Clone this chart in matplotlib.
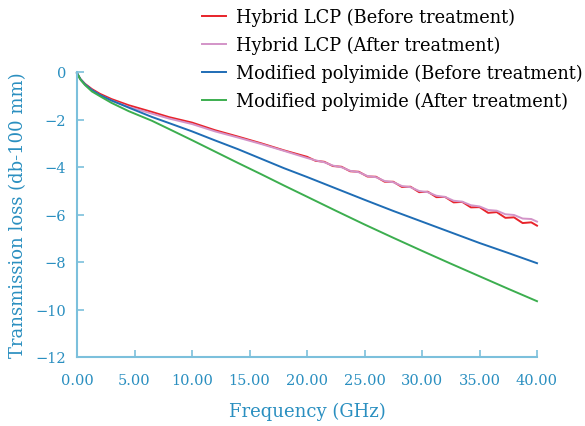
import matplotlib
matplotlib.use("Agg")
import matplotlib.pyplot as plt

# frequency points (GHz) for the smooth part of every curve
freq_base = [0, 0.3, 0.7, 1.3, 2, 3, 4.5, 6.5, 8, 10, 12, 14, 16, 18]

freq_lcp = freq_base + [20.0, 20.75, 21.5, 22.25, 23.0, 23.75, 24.5, 25.25, 26.0, 26.75,
                        27.5, 28.25, 29.0, 29.75, 30.5, 31.25, 32.0, 32.75, 33.5, 34.25,
                        35.0, 35.75, 36.5, 37.25, 38.0, 38.75, 39.5, 40.0]
lcp_before = [-0.05, -0.3, -0.5, -0.72, -0.92, -1.14, -1.4, -1.68, -1.9, -2.13, -2.45, -2.72, -3.0, -3.3,
              -3.57, -3.74, -3.78, -3.96, -3.99, -4.18, -4.20, -4.40, -4.41, -4.62,
              -4.62, -4.84, -4.83, -5.06, -5.04, -5.27, -5.26, -5.49, -5.47, -5.70,
              -5.69, -5.93, -5.90, -6.14, -6.12, -6.36, -6.33, -6.47]
lcp_after = [-0.05, -0.32, -0.54, -0.77, -0.98, -1.2, -1.47, -1.75, -1.96, -2.19, -2.5, -2.76, -3.03, -3.32,
             -3.62, -3.72, -3.80, -3.94, -4.01, -4.16, -4.22, -4.38, -4.43, -4.59,
             -4.64, -4.80, -4.85, -5.01, -5.06, -5.21, -5.26, -5.42, -5.46, -5.61,
             -5.66, -5.81, -5.84, -5.99, -6.02, -6.17, -6.19, -6.30]

# modified polyimide curves
freq_pi = freq_base + [20, 22.5, 25, 27.5, 30, 32.5, 35, 37.5, 40]
pi_before = [-0.05, -0.3, -0.52, -0.76, -0.97, -1.2, -1.5, -1.89, -2.15, -2.5, -2.88, -3.25, -3.65, -4.05,
             -4.42, -4.9, -5.38, -5.85, -6.3, -6.75, -7.2, -7.62, -8.05]
pi_after = [-0.05, -0.32, -0.55, -0.82, -1.02, -1.3, -1.65, -2.05, -2.4, -2.87, -3.35, -3.83, -4.3, -4.78,
            -5.25, -5.84, -6.42, -6.98, -7.53, -8.07, -8.6, -9.13, -9.65]

labels = ["Hybrid LCP (Before treatment)", "Hybrid LCP (After treatment)",
          "Modified polyimide (Before treatment)", "Modified polyimide (After treatment)"]
colors = ["#e8232a", "#d394c8", "#1f6db5", "#3cae4f"]

x_ticks = [0, 5, 10, 15, 20, 25, 30, 35, 40]
y_ticks = [0, -2, -4, -6, -8, -10, -12]

axis_col = "#7cc0dc"
text_col = "#2a8fc0"

plt.rcParams['font.family'] = ['DejaVu Serif']

fig = plt.figure(figsize=(5.85, 4.27), dpi=100)
ax = fig.add_axes([77 / 585, 69 / 427, 460 / 585, 285 / 427])

ax.plot(freq_lcp, lcp_before, color=colors[0], lw=1.4, label=labels[0], clip_on=False)
ax.plot(freq_lcp, lcp_after, color=colors[1], lw=1.4, label=labels[1], clip_on=False)
ax.plot(freq_pi, pi_before, color=colors[2], lw=1.4, label=labels[2], clip_on=False)
ax.plot(freq_pi, pi_after, color=colors[3], lw=1.4, label=labels[3], clip_on=False)

ax.set_xlim(0, 40)
ax.set_ylim(-12, 0)
ax.set_xticks(x_ticks)
ax.set_xticklabels([f"{t:.2f}" for t in x_ticks])
ax.set_yticks(y_ticks)
ax.set_yticklabels([f"{t:d}".replace("-", "\u2212") for t in y_ticks])

for s in ["top", "right"]:
    ax.spines[s].set_visible(False)
for s in ["left", "bottom"]:
    ax.spines[s].set_color(axis_col)
    ax.spines[s].set_linewidth(1.5)

ax.tick_params(direction="in", length=5, width=1.2, color=axis_col,
               labelcolor=text_col, labelsize=10.5, pad=8)
ax.tick_params(axis="x", pad=11.5)

ax.set_xlabel("Frequency (GHz)", color=text_col, fontsize=13, labelpad=10.5)
ax.set_ylabel("Transmission loss (db-100 mm)", color=text_col, fontsize=13, labelpad=6)

fig.legend(loc="upper left", bbox_to_anchor=(202 / 585, 1 - 9 / 427), frameon=False,
           fontsize=12.8, handlelength=1.35, handletextpad=0.56, labelspacing=0.55,
           borderpad=0, borderaxespad=0)

fig.savefig("out.png", dpi=100)
